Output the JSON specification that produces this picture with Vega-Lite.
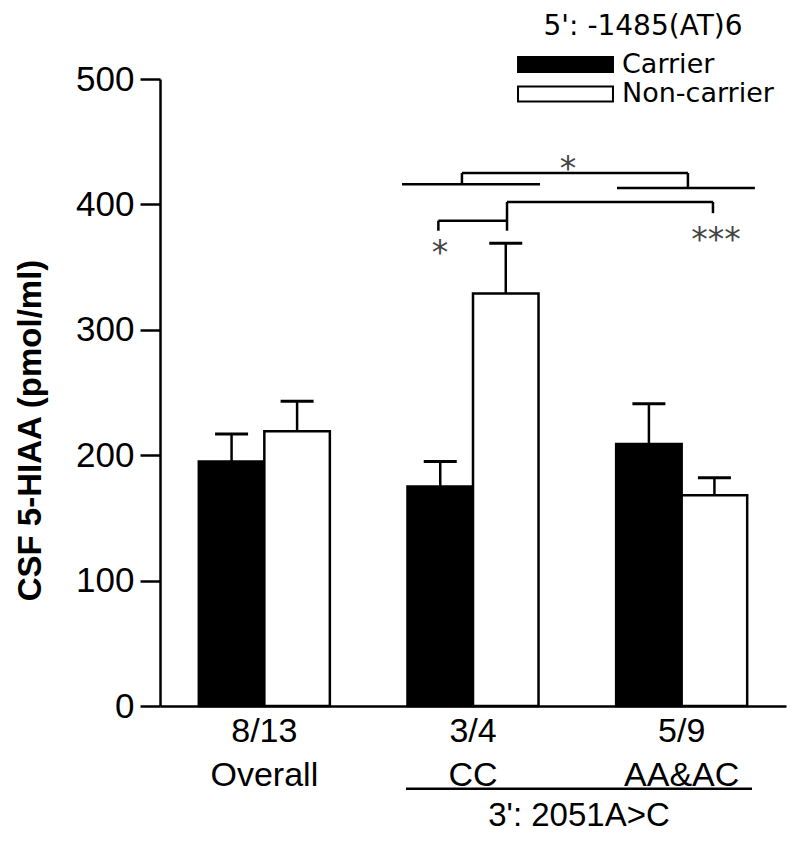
{
  "$schema": "https://vega.github.io/schema/vega-lite/v6.json",
  "autosize": "none",
  "width": 626,
  "height": 627,
  "padding": {"left": 160, "top": 79, "right": 14, "bottom": 137},
  "background": "white",
  "config": {"view": {"stroke": null}, "font": "Liberation Sans"},
  "datasets": {
    "bars": [
      {"group": "Overall", "genotype": "Carrier", "mean": 195, "upper": 217},
      {"group": "Overall", "genotype": "Non-carrier", "mean": 219, "upper": 243},
      {"group": "CC", "genotype": "Carrier", "mean": 175, "upper": 195},
      {"group": "CC", "genotype": "Non-carrier", "mean": 329, "upper": 369},
      {"group": "AA&AC", "genotype": "Carrier", "mean": 209, "upper": 241},
      {"group": "AA&AC", "genotype": "Non-carrier", "mean": 168, "upper": 182}
    ],
    "segments": [
      {"x1": 1.447, "x2": 2.530, "y1": 425, "y2": 425},
      {"x1": 1.447, "x2": 1.447, "y1": 425, "y2": 416},
      {"x1": 2.530, "x2": 2.530, "y1": 425, "y2": 413},
      {"x1": 1.160, "x2": 1.821, "y1": 416, "y2": 416},
      {"x1": 2.190, "x2": 2.851, "y1": 413, "y2": 413},
      {"x1": 1.663, "x2": 2.650, "y1": 402, "y2": 402},
      {"x1": 1.663, "x2": 1.663, "y1": 402, "y2": 379},
      {"x1": 2.650, "x2": 2.650, "y1": 402, "y2": 393},
      {"x1": 1.334, "x2": 1.663, "y1": 387, "y2": 387},
      {"x1": 1.334, "x2": 1.334, "y1": 387, "y2": 379},
      {"x1": 1.179, "x2": 2.837, "y1": -66, "y2": -66}
    ],
    "stars": [
      {"x": 1.955, "y": 433, "label": "*"},
      {"x": 1.342, "y": 366, "label": "*"},
      {"x": 2.665, "y": 376, "label": "***"}
    ],
    "caption": [
      {"x": 2.008, "y": -88, "label": "3': 2051A>C"}
    ]
  },
  "layer": [
    {
      "data": {"name": "bars"},
      "encoding": {
        "x": {
          "field": "group", "type": "nominal", "sort": ["Overall", "CC", "AA&AC"],
          "scale": {"paddingInner": 0.372, "paddingOuter": 0.186},
          "axis": {
            "title": null, "ticks": false, "domainColor": "black", "domainWidth": 2.5,
            "labelAngle": 0, "labelFont": "Liberation Sans", "labelFontSize": 34, "labelColor": "black",
            "labelLineHeight": 44, "labelPadding": 8,
            "labelExpr": "datum.value == 'Overall' ? ['8/13', 'Overall'] : datum.value == 'CC' ? ['3/4', 'CC'] : ['5/9', 'AA&AC']"
          }
        },
        "xOffset": {"field": "genotype", "type": "nominal", "sort": ["Carrier", "Non-carrier"], "scale": {"paddingInner": 0, "paddingOuter": 0}}
      },
      "layer": [
        {
          "mark": {"type": "bar", "stroke": "black", "strokeWidth": 2.5},
          "encoding": {
            "y": {
              "field": "mean", "type": "quantitative",
              "scale": {"domain": [0, 500], "nice": false, "zero": true},
              "axis": {
                "title": "CSF 5-HIAA (pmol/ml)", "titleFont": "Liberation Sans", "titleFontSize": 33,
                "titleFontWeight": "bold", "titleColor": "black", "titleAngle": -90,
                "titleX": -130, "titleY": 351, "titleAlign": "center", "titleBaseline": "middle",
                "values": [0, 100, 200, 300, 400, 500], "grid": false,
                "domainColor": "black", "domainWidth": 2.5, "tickColor": "black", "tickWidth": 2.5, "tickSize": 20,
                "labelFont": "Liberation Sans", "labelFontSize": 35, "labelColor": "black", "labelPadding": 6
              }
            },
            "fill": {
              "field": "genotype", "type": "nominal", "sort": ["Carrier", "Non-carrier"],
              "scale": {"range": ["black", "white"]},
              "legend": {
                "orient": "none", "legendX": 352, "legendY": -66,
                "title": "5': -1485(AT)6", "titleFont": "DejaVu Sans", "titleFontSize": 28, "titleFontWeight": "normal",
                "titleColor": "black", "titleAnchor": "middle", "titleAlign": "center", "titlePadding": 10, "titleLimit": 600,
                "labelFont": "DejaVu Sans", "labelFontSize": 27, "labelColor": "black", "labelOffset": 43, "labelLimit": 600,
                "rowPadding": 1.5,
                "symbolType": "M-6.33,-1H6.33V1H-6.33Z", "symbolSize": 225, "symbolOffset": 40,
                "symbolStrokeColor": "black", "symbolStrokeWidth": 2, "symbolOpacity": 1
              }
            }
          }
        },
        {
          "mark": {"type": "rule", "strokeWidth": 2.5, "color": "black"},
          "encoding": {
            "y": {"field": "mean", "type": "quantitative"},
            "y2": {"field": "upper"}
          }
        },
        {
          "mark": {"type": "tick", "size": 33, "thickness": 3, "color": "black", "opacity": 1},
          "encoding": {
            "y": {"field": "upper", "type": "quantitative"}
          }
        }
      ]
    },
    {
      "data": {"name": "segments"},
      "mark": {"type": "rule", "strokeWidth": 2.5, "color": "black"},
      "encoding": {
        "x": {"field": "x1", "type": "quantitative", "scale": {"domain": [0, 3], "nice": false, "zero": false}, "axis": null},
        "x2": {"field": "x2"},
        "y": {"field": "y1", "type": "quantitative"},
        "y2": {"field": "y2"}
      }
    },
    {
      "data": {"name": "stars"},
      "mark": {"type": "text", "font": "DejaVu Sans", "fontSize": 33, "color": "#444444", "baseline": "middle", "align": "center", "dy": 7},
      "encoding": {
        "x": {"field": "x", "type": "quantitative", "scale": {"domain": [0, 3], "nice": false, "zero": false}, "axis": null},
        "y": {"field": "y", "type": "quantitative"},
        "text": {"field": "label"}
      }
    },
    {
      "data": {"name": "caption"},
      "mark": {"type": "text", "font": "Liberation Sans", "fontSize": 33, "color": "black", "baseline": "middle", "align": "center"},
      "encoding": {
        "x": {"field": "x", "type": "quantitative", "scale": {"domain": [0, 3], "nice": false, "zero": false}, "axis": null},
        "y": {"field": "y", "type": "quantitative"},
        "text": {"field": "label"}
      }
    }
  ],
  "resolve": {"scale": {"x": "independent"}}
}
